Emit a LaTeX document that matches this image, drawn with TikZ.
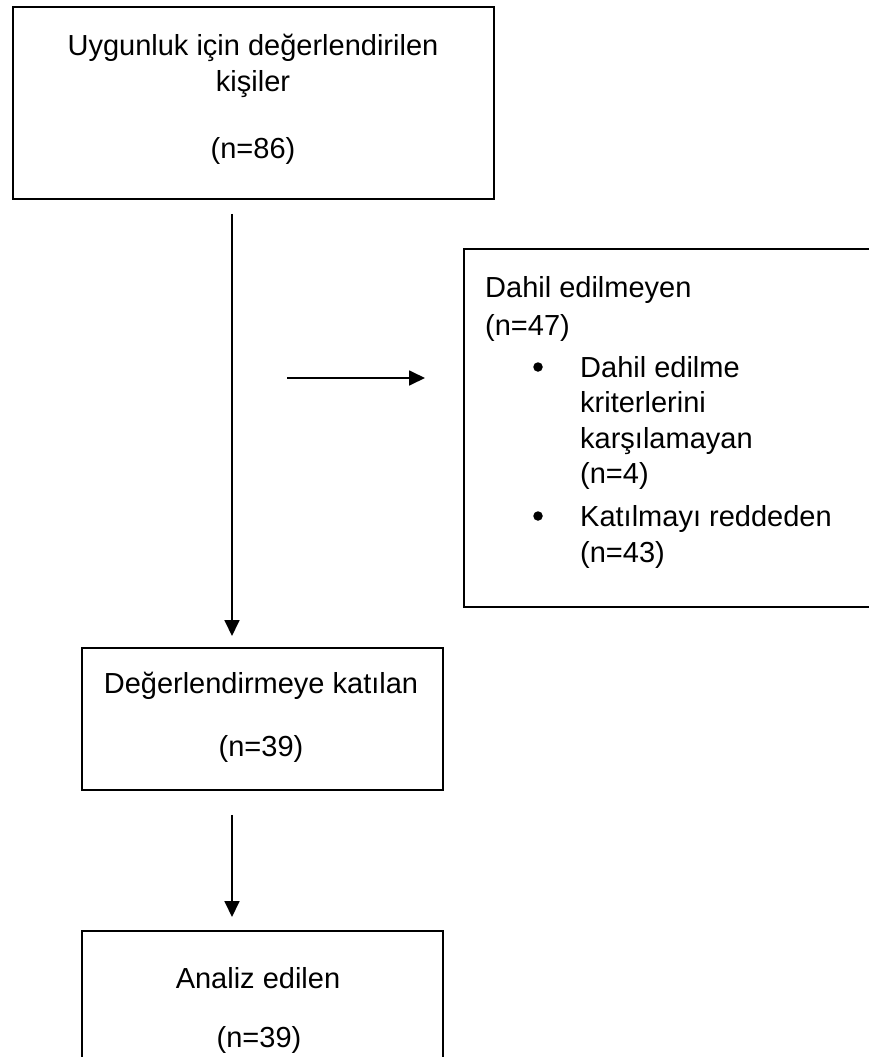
\documentclass[tikz,border=0pt]{standalone}
\usepackage{fontspec}
\setmainfont{Liberation Sans}
\usetikzlibrary{arrows.meta}
\begin{document}
\begin{tikzpicture}[x=1pt,y=-1pt,
  box/.style={draw=black, line width=1.8pt, rectangle, inner sep=0pt, anchor=north west},
  txt/.style={inner sep=0pt, font=\fontsize{29}{35}\selectfont},
  ctxt/.style={txt, anchor=base},
  ltxt/.style={txt, anchor=base west},
  bullet/.style={circle, fill=black, inner sep=0pt, minimum size=9.5pt},
  arr/.style={line width=1.8pt, -{Triangle[length=16pt,width=15pt]}}]
\useasboundingbox (0,0) rectangle (868,1057);
\fill[white] (0,0) rectangle (868,1057);
% boxes
\node[box, minimum width=481pt, minimum height=192pt] (top) at (12,6) {};
\node[box, minimum width=460pt, minimum height=358pt] (excl) at (463,248) {};
\node[box, minimum width=361pt, minimum height=142pt] (eval) at (81,647) {};
\node[box, minimum width=361pt, minimum height=200pt] (anal) at (81,930) {};
% top box text
\node[ctxt] (t1) at (253,56) {Uygunluk için değerlendirilen};
\node[ctxt] (t2) at (253,92) {kişiler};
\node[ctxt] (t3) at (253,158) {(n=86)};
% exclusion box text
\node[ltxt] (e1) at (485,297) {Dahil edilmeyen};
\node[ltxt] (e2) at (485,335) {(n=47)};
\node[bullet] (b1) at (538,367) {};
\node[ltxt] (e3) at (580,377) {Dahil edilme};
\node[ltxt] (e4) at (580,412) {kriterlerini};
\node[ltxt] (e5) at (580,448) {karşılamayan};
\node[ltxt] (e6) at (580,483) {(n=4)};
\node[bullet] (b2) at (538,516) {};
\node[ltxt] (e7) at (580,526) {Katılmayı reddeden};
\node[ltxt] (e8) at (580,562) {(n=43)};
% evaluation box text
\node[ctxt] (v1) at (261,693) {Değerlendirmeye katılan};
\node[ctxt] (v2) at (261,756) {(n=39)};
% analysis box text
\node[ctxt] (a1) at (258,988) {Analiz edilen};
\node[ctxt] (a2) at (259,1047) {(n=39)};
% connectors
\coordinate (ax) at (232,0);
\draw[arr, shorten <=14pt, shorten >=11pt] (top.south -| ax) -- (eval.north -| ax);
\draw[arr, shorten <=24pt, shorten >=13pt] (eval.south -| ax) -- (anal.north -| ax);
\coordinate (h1) at (287,378);
\coordinate (h2) at (425,378);
\draw[arr] (h1) -- (h2);
\end{tikzpicture}
\end{document}
